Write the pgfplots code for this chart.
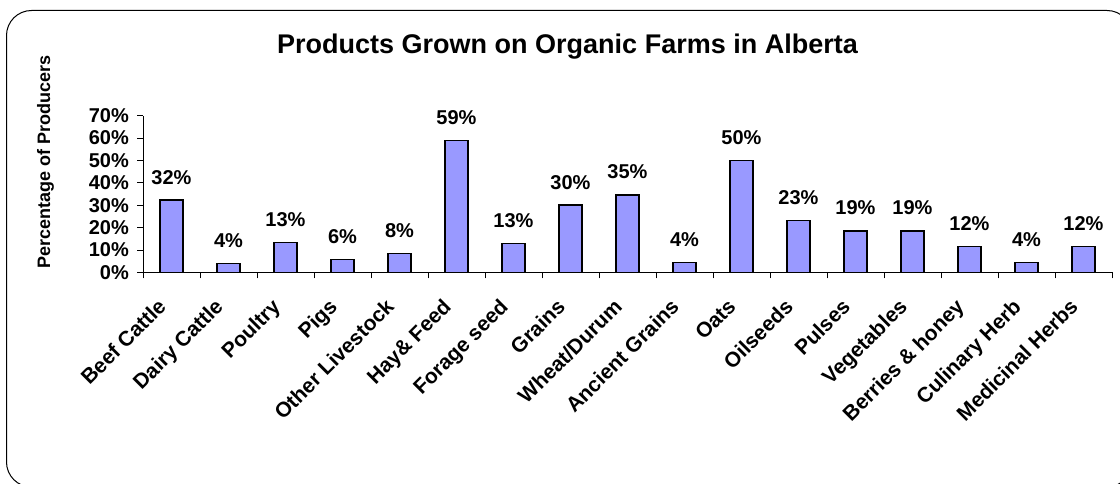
\documentclass[border=0pt]{standalone}
\usepackage{pgfplots}
\pgfplotsset{compat=1.18}
\usepackage{pgfplotstable}
\usepackage{fontspec}
\setmainfont{Liberation Sans}
\definecolor{barfill}{HTML}{9999FF}

\pgfplotstableread{
x y lab
0 32.3 32
1 3.9 4
2 13.4 13
3 5.8 6
4 8.4 8
5 59.0 59
6 12.8 13
7 30.0 30
8 34.6 35
9 4.4 4
10 50.0 50
11 23.2 23
12 18.5 19
13 18.5 19
14 11.5 12
15 4.4 4
16 11.5 12
}\datatable

\begin{document}
\begin{tikzpicture}
\path[use as bounding box] (0,0) rectangle (1120pt,483pt);
\draw[line width=1pt, rounded corners=25pt] (6.5pt,-4pt) rectangle (1132pt,472.5pt);
\begin{axis}[
  at={(143pt,210.7pt)}, anchor=south west,
  scale only axis, width=969pt, height=156.6pt,
  xmin=-0.5, xmax=16.5, ymin=0, ymax=70,
  axis x line*=bottom, axis y line*=left,
  axis line style={-, line width=0.8pt},
  tick align=outside, major tick length=6pt, minor tick length=6pt,
  tick style={black, line width=0.8pt},
  /pgf/number format/assume math mode=true,
  ytick={0,10,...,70},
  yticklabel={\pgfmathprintnumber{\tick}\%},
  yticklabel style={font=\fontsize{20}{20}\selectfont\bfseries, anchor=east, inner sep=0pt, xshift=-8pt},
  xtick={0,...,16},
  minor xtick={-0.5,0.5,...,16.5},
  major x tick style={draw=none},
  xticklabels={Beef Cattle,Dairy Cattle,Poultry,Pigs,Other Livestock,Hay\& Feed,Forage seed,Grains,Wheat/Durum,Ancient Grains,Oats,Oilseeds,Pulses,Vegetables,Berries \& honey,Culinary Herb,Medicinal Herbs},
  xticklabel style={xshift=-15pt, yshift=-19pt, font=\fontsize{21}{21}\selectfont\bfseries, rotate=45, anchor=north east, inner sep=0pt},
  ybar, bar width=23pt,
  point meta=explicit,
  nodes near coords={\pgfmathprintnumber[fixed,precision=0]{\pgfplotspointmeta}\%},
  nodes near coords style={font=\fontsize{20}{20}\selectfont\bfseries, anchor=south, inner sep=0pt, yshift=15pt},
  clip=false,
]
\addplot[fill=barfill, draw=black, line width=1.6pt] table[x=x, y=y, meta=lab] {\datatable};
\end{axis}
\node[font=\fontsize{27}{27}\selectfont\bfseries, anchor=base] at (567.5pt,429pt) {Products Grown on Organic Farms in Alberta};
\node[font=\fontsize{18}{18}\selectfont\bfseries, rotate=90, anchor=base] at (50pt,321pt) {Percentage of Producers};
\end{tikzpicture}
\end{document}
